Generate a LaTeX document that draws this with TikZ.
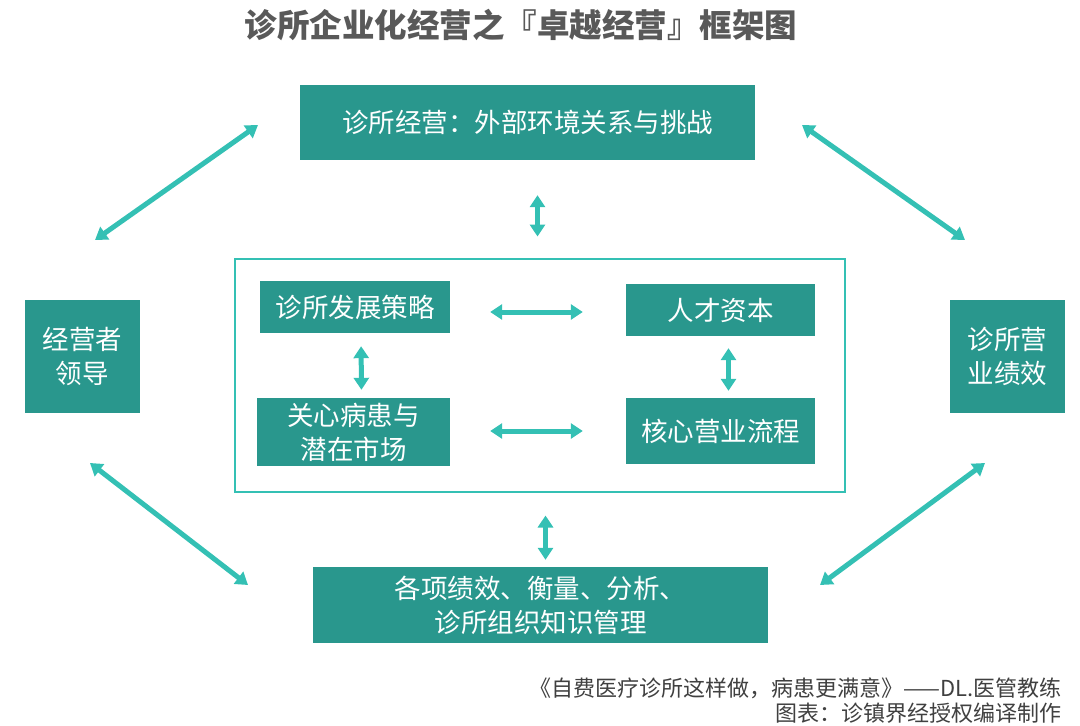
\documentclass[tikz,border=0pt]{standalone}
\usepackage{fontspec}
\setmainfont{Noto Sans CJK SC}
\usetikzlibrary{arrows.meta, positioning, calc}
\definecolor{boxteal}{RGB}{41, 151, 141}
\definecolor{arrowteal}{RGB}{52, 192, 180}
\definecolor{titlegray}{RGB}{89, 89, 89}
\definecolor{notegray}{RGB}{64, 64, 64}

\tikzset{
    tealbox/.style={
        rectangle,
        fill=boxteal,
        text=white,
        align=center,
        inner sep=0pt,
        font=\fontsize{26.5}{34}\selectfont
    },
    dbl/.style={
        draw=arrowteal,
        line width=5pt,
        arrows={Triangle[width=15pt,length=12pt]-Triangle[width=15pt,length=12pt]}
    }
}

\begin{document}
\begin{tikzpicture}[x=1pt, y=-1pt]
    \useasboundingbox (0,0) rectangle (1080,726);

    % title
    \node[text=titlegray, font=\fontsize{32.5}{36}\selectfont\bfseries] (title) at (521,25) {诊所企业化经营之『卓越经营』框架图};

    % outer boxes
    \node[tealbox, minimum width=455pt, minimum height=75pt] (ext) at (527.5,122.5) {诊所经营：外部环境关系与挑战};
    \node[tealbox, minimum width=115pt, minimum height=113pt] (lead) at (82.5,356.5) {经营者\\领导};
    \node[tealbox, minimum width=115pt, minimum height=113pt] (perf) at (1007.5,356.5) {诊所营\\业绩效};
    \node[tealbox, minimum width=455pt, minimum height=76pt] (mgmt) at (540.5,605) {各项绩效、衡量、分析、\\诊所组织知识管理};

    % inner frame
    \node[draw=arrowteal, line width=2pt, minimum width=610pt, minimum height=233pt] (core) at (539.5,375) {};

    \node[tealbox, minimum width=190pt, minimum height=52pt] (strat) at (355,307) {诊所发展策略};
    \node[tealbox, minimum width=189pt, minimum height=52pt] (talent) at (720.5,310) {人才资本};
    \node[tealbox, minimum width=193pt, minimum height=68pt] (care) at (353.5,432) {关心病患与\\潜在市场};
    \node[tealbox, minimum width=189pt, minimum height=66pt] (proc) at (720.5,431) {核心营业流程};

    % inner arrows
    \draw[dbl, shorten <=40pt, shorten >=43pt] ([yshift=-5pt]strat.east) -- ([yshift=-2pt]talent.west);
    \draw[dbl, shorten <=40pt, shorten >=43pt] ([yshift=1pt]care.east) -- ([yshift=1pt]care.east -| proc.west);
    \draw[dbl, shorten <=13pt, shorten >=8pt] ([xshift=6pt]strat.south) -- ([xshift=8pt]care.north);
    \draw[dbl, shorten <=12pt, shorten >=7pt] ([xshift=8pt]talent.south) -- ([xshift=8pt]proc.north);

    % vertical arrows to the frame
    \draw[dbl, shorten <=35pt, shorten >=21pt] ([xshift=10pt]ext.south) -- ([xshift=-2pt]core.north);
    \draw[dbl, shorten <=23pt, shorten >=7pt] ([xshift=6pt]core.south) -- ([xshift=5pt]mgmt.north);

    % diagonal arrows
    \coordinate (tl1) at (95,240);
    \coordinate (tl2) at (258,125);
    \coordinate (tr1) at (802,125);
    \coordinate (tr2) at (965,240);
    \coordinate (bl1) at (90,463);
    \coordinate (bl2) at (248,585);
    \coordinate (br1) at (820,585);
    \coordinate (br2) at (985,463);
    \draw[dbl] (tl1) -- (tl2);
    \draw[dbl] (tr1) -- (tr2);
    \draw[dbl] (bl1) -- (bl2);
    \draw[dbl] (br1) -- (br2);

    % source
    \node[text=notegray, anchor=east, font=\fontsize{22}{24}\selectfont] (src) at (1065,688) {《自费医疗诊所这样做，病患更满意》——DL.医管教练};
    \node[text=notegray, anchor=east, font=\fontsize{22}{24}\selectfont] (credit) at (1065,713) {图表：诊镇界经授权编译制作};
\end{tikzpicture}
\end{document}
